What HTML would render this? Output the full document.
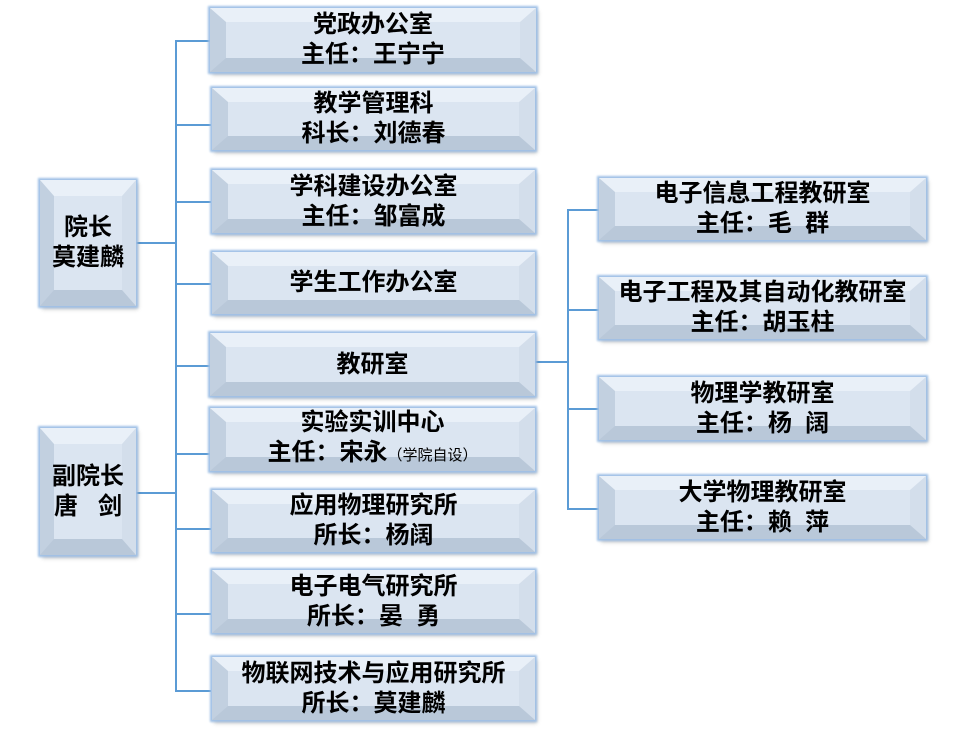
<!DOCTYPE html>
<html><head><meta charset="utf-8"><style>
body{margin:0;width:965px;height:730px;background:#fff;position:relative;overflow:hidden;font-family:"Liberation Sans","Noto Sans CJK SC",sans-serif;}
.b{position:absolute;box-sizing:border-box;border-style:solid;border-width:14px 16px;border-color:#e9f0f8 #d3deeb #b9c8d9 #c2d0e0;background:#dbe5f1;box-shadow:0 0 2px 2px #9fc0e6,2px 3px 4px rgba(0,0,0,0.25);display:flex;align-items:center;justify-content:center;text-align:center;white-space:nowrap;font-size:24px;line-height:30px;color:#000;font-weight:bold}
.b span{display:block}
.l{position:absolute;background:#5b9bd5}
small{font-size:15px;font-weight:normal}
</style></head><body>
<div class="l" style="left:175px;top:40px;width:1.5px;height:651px"></div>
<div class="l" style="left:175px;top:40px;width:36px;height:1.5px"></div>
<div class="l" style="left:175px;top:124px;width:36px;height:1.5px"></div>
<div class="l" style="left:175px;top:201px;width:36px;height:1.5px"></div>
<div class="l" style="left:175px;top:283px;width:36px;height:1.5px"></div>
<div class="l" style="left:175px;top:365px;width:36px;height:1.5px"></div>
<div class="l" style="left:175px;top:453px;width:36px;height:1.5px"></div>
<div class="l" style="left:175px;top:528px;width:36px;height:1.5px"></div>
<div class="l" style="left:175px;top:613px;width:36px;height:1.5px"></div>
<div class="l" style="left:175px;top:690px;width:36px;height:1.5px"></div>
<div class="l" style="left:136px;top:242px;width:40px;height:1.5px"></div>
<div class="l" style="left:136px;top:492px;width:40px;height:1.5px"></div>
<div class="l" style="left:535px;top:361px;width:33px;height:1.5px"></div>
<div class="l" style="left:567px;top:209px;width:1.5px;height:300px"></div>
<div class="l" style="left:567px;top:209px;width:32px;height:1.5px"></div>
<div class="l" style="left:567px;top:309px;width:32px;height:1.5px"></div>
<div class="l" style="left:567px;top:408px;width:32px;height:1.5px"></div>
<div class="l" style="left:567px;top:508px;width:32px;height:1.5px"></div>

<div class="b" style="left:40px;top:180px;width:96px;height:126px;border-width:16px 14px"><span>院长<br>莫建麟</span></div>
<div class="b" style="left:40px;top:428px;width:96px;height:127px;border-width:16px 14px"><span>副院长<br>唐&nbsp;&nbsp;&nbsp;剑</span></div>

<div class="b" style="left:210px;top:8px;width:326px;height:64px"><span>党政办公室<br>主任：王宁宁</span></div>
<div class="b" style="left:212px;top:88px;width:323px;height:62px"><span>教学管理科<br>科长：刘德春</span></div>
<div class="b" style="left:212px;top:170px;width:323px;height:63px"><span>学科建设办公室<br>主任：邹富成</span></div>
<div class="b" style="left:212px;top:252px;width:323px;height:62px"><span>学生工作办公室</span></div>
<div class="b" style="left:210px;top:333px;width:325px;height:63px"><span>教研室</span></div>
<div class="b" style="left:210px;top:408px;width:325px;height:63px"><span>实验实训中心<br>主任：宋永<small>（学院自设）</small></span></div>
<div class="b" style="left:212px;top:490px;width:323px;height:62px"><span>应用物理研究所<br>所长：杨阔</span></div>
<div class="b" style="left:212px;top:570px;width:323px;height:63px"><span>电子电气研究所<br>所长：晏&nbsp;&nbsp;勇</span></div>
<div class="b" style="left:212px;top:657px;width:323px;height:63px"><span>物联网技术与应用研究所<br>所长：莫建麟</span></div>

<div class="b" style="left:599px;top:178px;width:327px;height:62px"><span>电子信息工程教研室<br>主任：毛&nbsp;&nbsp;群</span></div>
<div class="b" style="left:599px;top:277px;width:327px;height:62px"><span>电子工程及其自动化教研室<br>主任：胡玉柱</span></div>
<div class="b" style="left:599px;top:377px;width:327px;height:63px"><span>物理学教研室<br>主任：杨&nbsp;&nbsp;阔</span></div>
<div class="b" style="left:599px;top:476px;width:327px;height:63px"><span>大学物理教研室<br>主任：赖&nbsp;&nbsp;萍</span></div>
</body></html>
